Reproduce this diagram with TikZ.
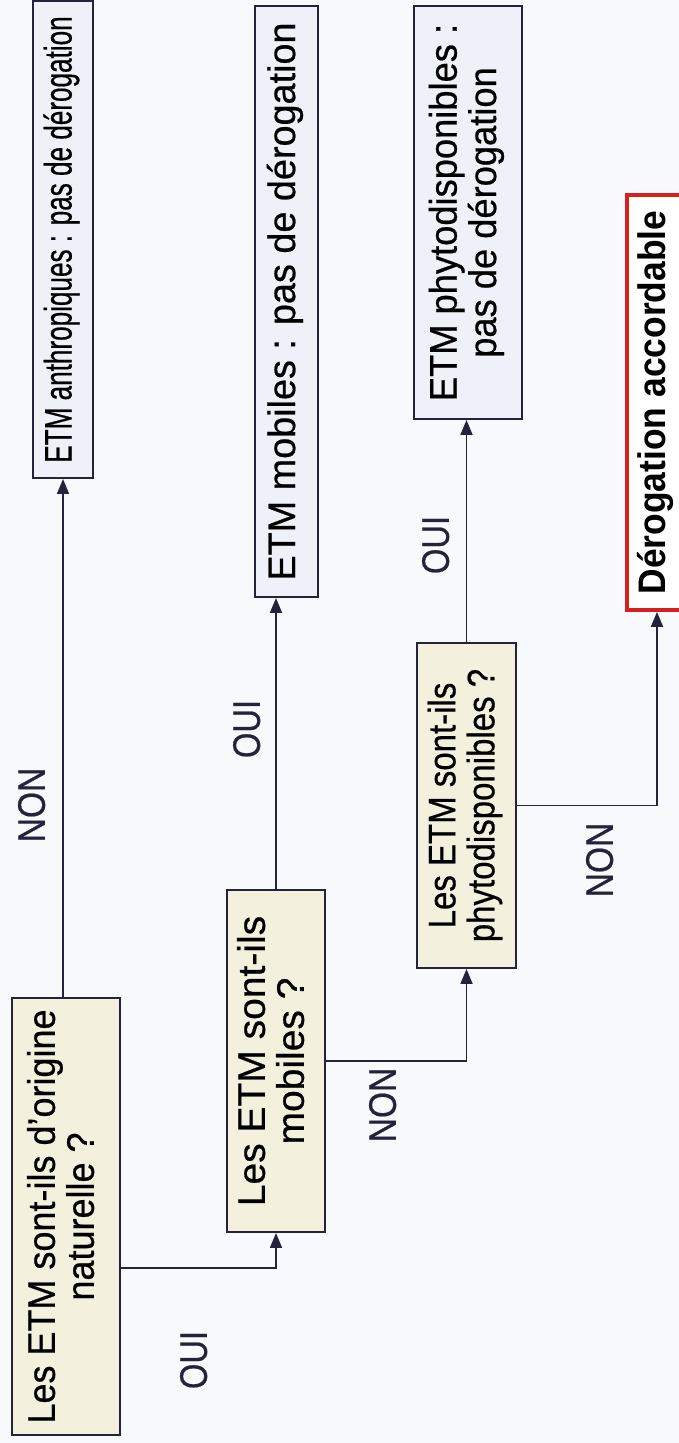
\documentclass[tikz,border=0pt]{standalone}
\usepackage{fontspec}
\setmainfont{Liberation Sans}
\newfontfamily\scanfont{Liberation Sans}[FakeBold=0.6,Ligatures=TeX]
\usetikzlibrary{calc,arrows.meta}
\definecolor{qfill}{HTML}{F3F1DE}
\definecolor{afill}{HTML}{EFF1F8}
\definecolor{ln}{HTML}{23233C}
\definecolor{rd}{HTML}{D81E1E}
\definecolor{bg}{HTML}{F8F9FC}
\newcommand{\txt}[2]{\scalebox{#1}[1.28]{\begin{tabular}{@{}c@{}}#2\end{tabular}}}
\begin{document}
\begin{tikzpicture}[x=1pt,y=1pt,
  qbox/.style={draw=ln, line width=2pt, fill=qfill, inner sep=0pt, font=\scanfont\fontsize{30}{29}\selectfont},
  abox/.style={draw=ln, line width=2pt, fill=afill, inner sep=0pt, font=\scanfont\fontsize{30}{29}\selectfont},
  gbox/.style={draw=rd, line width=3.8pt, fill=white, inner sep=0pt, font=\bfseries\fontsize{30}{29}\selectfont},
  conn/.style={draw=ln, line width=1.8pt},
  arr/.style={conn, -{Triangle[length=15pt,width=12pt]}},
  lbl/.style={font=\scanfont\fontsize{30}{29}\selectfont, text=ln, inner sep=0pt}]
\fill[bg] (0,0) rectangle (679,1443);
\useasboundingbox (0,0) rectangle (679,1443);
\begin{scope}[rotate=90, transform shape]
  \node[qbox, minimum width=437pt, minimum height=108pt] (A) at (226.5,-66) {\txt{1.2}{Les ETM sont-ils d’origine\\naturelle ?}};
  \node[abox, minimum width=477pt, minimum height=60pt] (B) at (1203.5,-63) {\txt{0.87}{ETM anthropiques : pas de dérogation}};
  \node[qbox, minimum width=342pt, minimum height=98pt] (C) at (382,-276) {\txt{1.3}{Les ETM sont-ils\\mobiles ?}};
  \node[abox, minimum width=591pt, minimum height=63pt] (D) at (1141.5,-286.5) {\txt{1.26}{ETM mobiles : pas de dérogation}};
  \node[qbox, minimum width=325pt, minimum height=99pt] (E) at (637.5,-466.5) {\txt{1.1}{Les ETM sont-ils\\phytodisponibles ?}};
  \node[abox, minimum width=413pt, minimum height=108pt] (F) at (1230.5,-468) {\txt{1.21}{ETM phytodisponibles :\\pas de dérogation}};
  \node[gbox, minimum width=415pt, minimum height=60pt] (G) at (1040.5,-657) {\txt{1.18}{Dérogation accordable}};
  \node[lbl] (n1) at (638,-37) {\txt{1.12}{NON}};
  \node[lbl] (o1) at (83,-199) {\txt{1.09}{OUI}};
  \node[lbl] (o2) at (714,-252) {\txt{1.09}{OUI}};
  \node[lbl] (n2) at (338,-388) {\txt{1.12}{NON}};
  \node[lbl] (o3) at (898,-441) {\txt{1.09}{OUI}};
  \node[lbl] (n3) at (583,-605) {\txt{1.12}{NON}};
\end{scope}
\coordinate (a1) at ($(A.south west)!0.382!(A.south east)$);
\draw[arr] (B.west |- A.east) -- (B.west);
\draw[arr] (a1) -| (C.west);
\draw[arr] (C.east) -- (C.east |- D.west);
\draw[arr] (C.south) -| (E.west);
\draw[arr] (E.east) -- (E.east |- F.west);
\draw[arr] (E.south) -| (G.west);
\end{tikzpicture}
\end{document}
